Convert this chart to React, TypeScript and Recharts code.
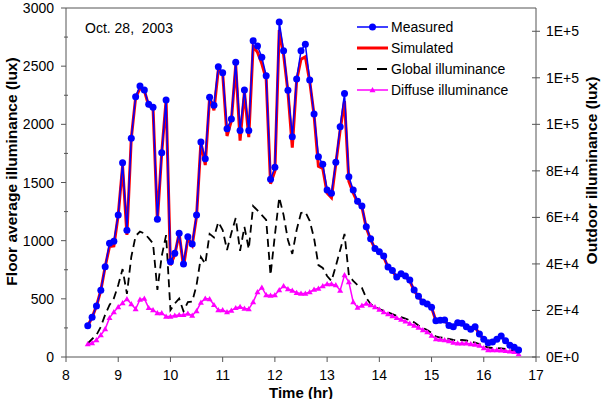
import React from 'react';
import { LineChart, Line, XAxis, YAxis, ReferenceLine, Legend } from 'recharts';

// Clock times of the 5-minute samples
const times = [
  '8:25', '8:30', '8:35', '8:40', '8:45', '8:50', '8:55',
  '9:00', '9:05', '9:10', '9:15', '9:20', '9:25', '9:30', '9:35', '9:40', '9:45', '9:50', '9:55',
  '10:00', '10:05', '10:10', '10:15', '10:20', '10:25', '10:30', '10:35', '10:40', '10:45', '10:50', '10:55',
  '11:00', '11:05', '11:10', '11:15', '11:20', '11:25', '11:30', '11:35', '11:40', '11:45', '11:50', '11:55',
  '12:00', '12:05', '12:10', '12:15', '12:20', '12:25', '12:30', '12:35', '12:40', '12:45', '12:50', '12:55',
  '13:00', '13:05', '13:10', '13:15', '13:20', '13:25', '13:30', '13:35', '13:40', '13:45', '13:50', '13:55',
  '14:00', '14:05', '14:10', '14:15', '14:20', '14:25', '14:30', '14:35', '14:40', '14:45', '14:50', '14:55',
  '15:00', '15:05', '15:10', '15:15', '15:20', '15:25', '15:30', '15:35', '15:40', '15:45', '15:50', '15:55',
  '16:00', '16:05', '16:10', '16:15', '16:20', '16:25', '16:30', '16:35', '16:40',
];

// Floor average illuminance (lux)
const measured = [
  269, 341, 438, 573, 776, 977, 995, 1221, 1670, 1089,
  1880, 2238, 2330, 2295, 2172, 2146, 1184, 1756, 2209, 819,
  891, 1063, 799, 1034, 971, 1221, 1848, 1705, 2232, 2164,
  2496, 2444, 1963, 2046, 2533, 1946, 2295, 1946, 2719, 2673,
  2576, 2418, 1528, 1631, 2880, 2633, 2293, 1894, 2390, 2633,
  2688, 2381, 2089, 1722, 1656, 1436, 1407, 1674, 1980, 2265,
  1550, 1436, 1338, 1298, 1120, 1017, 933, 905, 868, 774,
  744, 688, 716, 696, 662, 576, 522, 473, 456, 427,
  312, 315, 318, 271, 260, 295, 290, 260, 238, 260,
  198, 152, 123, 129, 152, 181, 140, 101, 83, 60,
];

const simulated = [
  269, 341, 438, 573, 776, 950, 955, 1221, 1640, 1050,
  1880, 2230, 2310, 2290, 2160, 2140, 1170, 1756, 2209, 790,
  880, 1063, 775, 1020, 960, 1210, 1848, 1650, 2232, 2120,
  2470, 2440, 1900, 2030, 2510, 1860, 2280, 1890, 2670, 2620,
  2520, 2390, 1490, 1600, 2810, 2600, 2280, 1800, 2380, 2560,
  2580, 2370, 2080, 1640, 1620, 1410, 1370, 1660, 1950, 2200,
  1510, 1410, 1330, 1290, 1110, 1010, 930, 900, 860, 770,
  740, 685, 710, 690, 655, 570, 520, 470, 450, 425,
  310, 312, 315, 270, 258, 292, 288, 258, 236, 258,
  196, 150, 122, 127, 150, 178, 138, 100, 82, 60,
];

// Outdoor illuminance (lux)
const globalIllum = [
  5890, 7740, 9460, 13000, 18200, 22350, 25200, 30900, 37800, 27100,
  43000, 52000, 53900, 53100, 51100, 48800, 28800, 43400, 52400, 20200,
  23000, 25100, 19600, 23600, 23800, 30900, 43000, 40000, 52900, 51400,
  58000, 54600, 46000, 53300, 59700, 45600, 55900, 46400, 64900, 63000,
  61000, 58900, 35200, 52400, 68600, 61000, 50300, 44300, 54600, 61900,
  62300, 58500, 51100, 39500, 38300, 34800, 32700, 39100, 46000, 52900,
  35200, 32700, 30900, 29700, 25400, 22800, 21500, 20600, 19800, 19200,
  18400, 17700, 17100, 16500, 15800, 14900, 13500, 12500, 11600, 10300,
  8810, 8380, 8170, 7740, 7310, 7090, 7310, 7090, 6660, 6230,
  5590, 4730, 4080, 3870, 3870, 3740, 3440, 3010, 2580, 1720,
];

const diffuse = [
  5590, 6020, 7310, 9460, 12000, 16800, 19300, 21500, 23200, 24900,
  22800, 20600, 24700, 25100, 21100, 20200, 18900, 18900, 17400, 17400,
  17800, 18100, 18100, 18700, 17800, 19800, 23400, 25100, 24900, 22400,
  20200, 20200, 19300, 20000, 21100, 21600, 20800, 20600, 23600, 27900,
  29900, 26600, 26400, 26600, 28800, 30500, 29200, 28600, 27600, 27300,
  27300, 27900, 29000, 29400, 30500, 31400, 31400, 30900, 28600, 35200,
  32200, 23600, 21300, 22100, 23000, 22300, 21500, 20400, 19300, 18500,
  17600, 16800, 16100, 15300, 14400, 13500, 12700, 11600, 10700, 9240,
  7740, 7520, 7310, 6880, 6230, 5890, 5890, 5890, 5590, 5370,
  4940, 3870, 3010, 3010, 3010, 2920, 2660, 2450, 2230, 1290,
];

const hourTicks = [8, 9, 10, 11, 12, 13, 14, 15, 16, 17];
const floorTicks = [0, 250, 500, 750, 1000, 1250, 1500, 1750, 2000, 2250, 2500, 2750, 3000];
const outdoorTicks = [0, 20000, 40000, 60000, 80000, 100000, 120000, 140000];

const legendItems = [
  { key: 'measured', label: 'Measured' },
  { key: 'simulated', label: 'Simulated' },
  { key: 'global', label: 'Global illuminance' },
  { key: 'diffuse', label: 'Diffuse illuminance' },
];

const toHours = (s: string) => {
  const [h, m] = s.split(':').map(Number);
  return h + m / 60;
};

const rows = times.map((s, i) => ({
  t: toHours(s),
  measured: measured[i],
  simulated: simulated[i],
  global: globalIllum[i],
  diffuse: diffuse[i],
}));

const FONT = '"Liberation Sans", Arial, sans-serif';
const AXIS = '#555';
const BLUE = '#0000ff';
const RED = '#ff0000';
const MAGENTA = '#ff00ff';

const LeftTick = (props: any) => {
  const { x, y, payload } = props;
  const axisX = x + 12;
  const v = payload.value as number;
  const major = v % 500 === 0;
  return (
    <g>
      {major ? (
        <line x1={axisX - 5} x2={axisX} y1={y} y2={y} stroke={AXIS} />
      ) : (
        <line x1={axisX - 2} x2={axisX + 2} y1={y} y2={y} stroke={AXIS} />
      )}
      {major && (
        <text x={x} y={y + 5} textAnchor="end" fontSize={14} fontFamily={FONT} fill="#000">
          {v}
        </text>
      )}
    </g>
  );
};

const RightTick = (props: any) => {
  const { x, y, payload } = props;
  const axisX = x - 10;
  const v = payload.value as number;
  return (
    <g>
      <line x1={axisX - 4} x2={axisX + 4} y1={y} y2={y} stroke={AXIS} />
      <text x={x} y={y + 5} textAnchor="start" fontSize={14} fontFamily={FONT} fill="#000">
        {v.toExponential(0).toUpperCase()}
      </text>
    </g>
  );
};

const BottomTick = (props: any) => {
  const { x, y, payload } = props;
  const axisY = y - 15;
  return (
    <g>
      <line x1={x} x2={x} y1={axisY} y2={axisY + 5} stroke={AXIS} />
      <text x={x} y={y + 8} textAnchor="middle" fontSize={14} fontFamily={FONT} fill="#000">
        {payload.value}
      </text>
    </g>
  );
};

const titleStyle = { fontSize: 15.5, fontWeight: 700, fontFamily: FONT, fill: '#000' };

const LeftTitle = (props: any) => {
  const vb = props.viewBox;
  const cx = vb.x + 3;
  const cy = vb.y + vb.height / 2 - 11;
  return (
    <text x={cx} y={cy} transform={`rotate(-90 ${cx} ${cy})`} textAnchor="middle" dominantBaseline="central" {...titleStyle}>
      Floor average illuminance (lux)
    </text>
  );
};

const RightTitle = (props: any) => {
  const vb = props.viewBox;
  const cx = vb.x + 55;
  const cy = vb.y + vb.height / 2 - 12;
  return (
    <text x={cx} y={cy} transform={`rotate(-90 ${cx} ${cy})`} textAnchor="middle" dominantBaseline="central" {...titleStyle}>
      Outdoor illuminance (lux)
    </text>
  );
};

const BottomTitle = (props: any) => {
  const vb = props.viewBox;
  return (
    <text x={vb.x + vb.width / 2} y={vb.y + 35} textAnchor="middle" dominantBaseline="central" {...titleStyle} fontSize={15}>
      Time (hr)
    </text>
  );
};

const Triangle = (props: any) => {
  const { cx, cy } = props;
  if (cx == null || cy == null) return null;
  return <polygon points={`${cx},${cy - 3} ${cx - 3},${cy + 2.2} ${cx + 3},${cy + 2.2}`} fill={MAGENTA} />;
};

const LegendSample = ({ kind }: { kind: string }) => (
  <svg width={31} height={14} style={{ display: 'block' }}>
    {kind === 'measured' && (
      <>
        <line x1={0} x2={31} y1={7} y2={7} stroke={BLUE} strokeWidth={1.5} />
        <circle cx={15.5} cy={7} r={3.5} fill={BLUE} />
      </>
    )}
    {kind === 'simulated' && <line x1={0} x2={31} y1={7} y2={7} stroke={RED} strokeWidth={3} />}
    {kind === 'global' && (
      <line x1={0} x2={31} y1={7} y2={7} stroke="#000" strokeWidth={1.8} strokeDasharray="10 10" />
    )}
    {kind === 'diffuse' && (
      <>
        <line x1={0} x2={31} y1={7} y2={7} stroke={MAGENTA} strokeWidth={1.5} />
        <polygon points="15.5,4 12.5,9.2 18.5,9.2" fill={MAGENTA} />
      </>
    )}
  </svg>
);

const LegendBox = () => (
  <div style={{ fontFamily: FONT, fontSize: 14, color: '#000' }}>
    {legendItems.map((it) => (
      <div key={it.key} style={{ display: 'flex', alignItems: 'center', height: 21 }}>
        <LegendSample kind={it.key} />
        <span style={{ marginLeft: 3, whiteSpace: 'nowrap' }}>{it.label}</span>
      </div>
    ))}
  </div>
);

export default function App() {
  return (
    <div style={{ position: 'absolute', left: 0, top: 0, width: 601, height: 399, background: '#fff', fontFamily: FONT }}>
      <LineChart width={601} height={399} data={rows} margin={{ top: 8, right: 8, bottom: 8, left: 8 }}>
        <XAxis
          dataKey="t"
          type="number"
          domain={[8, 17]}
          ticks={hourTicks}
          interval={0}
          height={34}
          tickSize={5}
          tickMargin={10}
          tickLine={false}
          tick={<BottomTick />}
          axisLine={{ stroke: AXIS }}
          label={{ content: <BottomTitle /> }}
        />
        <YAxis
          yAxisId="left"
          domain={[0, 3000]}
          ticks={floorTicks}
          interval={0}
          width={58}
          tickSize={5}
          tickMargin={7}
          tickLine={false}
          tick={<LeftTick />}
          axisLine={{ stroke: AXIS }}
          label={{ content: <LeftTitle /> }}
        />
        <YAxis
          yAxisId="right"
          orientation="right"
          domain={[0, 150000]}
          ticks={outdoorTicks}
          interval={0}
          width={57}
          tickSize={4}
          tickMargin={6}
          tickLine={false}
          tick={<RightTick />}
          axisLine={{ stroke: AXIS }}
          label={{ content: <RightTitle /> }}
        />
        <ReferenceLine yAxisId="left" y={3000} stroke={AXIS} />
        <Line
          yAxisId="right"
          dataKey="global"
          type="linear"
          stroke="#000"
          strokeWidth={1.8}
          strokeDasharray="8 5"
          dot={false}
          isAnimationActive={false}
        />
        <Line
          yAxisId="right"
          dataKey="diffuse"
          type="linear"
          stroke={MAGENTA}
          strokeWidth={1.5}
          dot={<Triangle />}
          isAnimationActive={false}
        />
        <Line
          yAxisId="left"
          dataKey="simulated"
          type="linear"
          stroke={RED}
          strokeWidth={3}
          dot={false}
          isAnimationActive={false}
        />
        <Line
          yAxisId="left"
          dataKey="measured"
          type="linear"
          stroke={BLUE}
          strokeWidth={1.5}
          dot={{ r: 3.5, fill: BLUE, stroke: BLUE, strokeWidth: 0 }}
          isAnimationActive={false}
        />
        <Legend
          layout="vertical"
          align="center"
          verticalAlign="middle"
          content={<LegendBox />}
          wrapperStyle={{ left: 357, top: 16.5, width: 'auto' }}
        />
      </LineChart>
      <div
        style={{
          position: 'absolute',
          left: 85,
          top: 20,
          fontSize: 14,
          lineHeight: '16px',
          whiteSpace: 'pre',
          color: '#000',
        }}
      >
        {'Oct. 28,  2003'}
      </div>
    </div>
  );
}
